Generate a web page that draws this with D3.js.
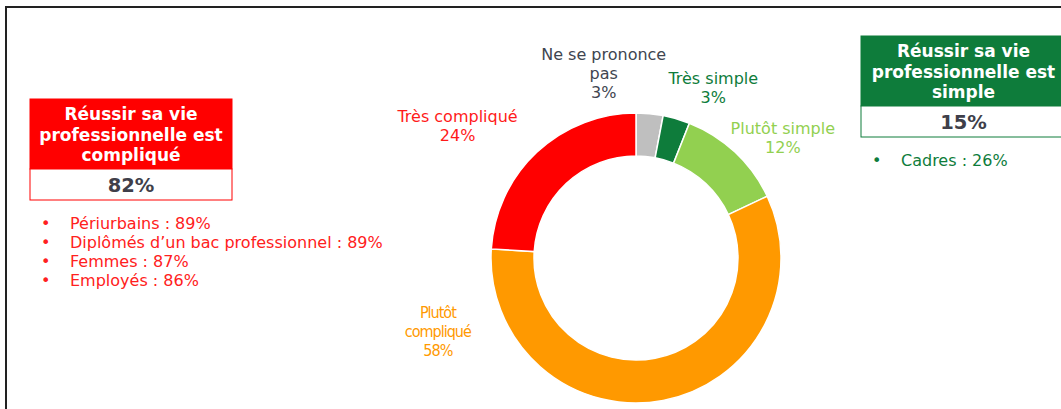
<!DOCTYPE html>
<html>
<head>
<meta charset="utf-8">
<script src="https://cdn.jsdelivr.net/npm/d3@7"></script>
<style>
  body { margin: 0; background: #fff; }
  svg { display: block; font-family: 'DejaVu Sans', Verdana, sans-serif; }
  .box-title { font-weight: bold; font-size: 17px; fill: #fff; }
  .box-value { font-weight: bold; font-size: 19.5px; fill: #3f3f4a; }
  .bullet { font-size: 16px; }
  .slice-label { font-size: 16px; }
  .narrow { font-family: 'DejaVu Sans Condensed', 'DejaVu Sans', sans-serif; font-stretch: condensed; letter-spacing: -1px; }
</style>
</head>
<body>
<svg id="chart"></svg>
<script>
// Donut data
const categories = ['Ne se prononce pas', 'Très simple', 'Plutôt simple', 'Plutôt compliqué', 'Très compliqué'];
const values = [3, 3, 12, 58, 24];
const sliceColors = ['#bfbfbf', '#0e7c3b', '#92d050', '#ff9900', '#ff0000'];
const labelColors = ['#404550', '#0e7c3b', '#92d050', '#ff9900', '#ff1a1a'];
const labelLines = [
  ['Ne se prononce', 'pas', '3%'],
  ['Très simple', '3%'],
  ['Plutôt simple', '12%'],
  ['Plutôt', 'compliqué', '58%'],
  ['Très compliqué', '24%'],
];

// Side boxes
const complicatedTitle = ['Réussir sa vie', 'professionnelle est', 'compliqué'];
const complicatedTotal = '82%';
const complicatedDetails = ['Périurbains : 89%', 'Diplômés d\u2019un bac professionnel : 89%', 'Femmes : 87%', 'Employés : 86%'];
const simpleTitle = ['Réussir sa vie', 'professionnelle est', 'simple'];
const simpleTotal = '15%';
const simpleDetails = ['Cadres : 26%'];

const width = 1061;
const height = 409;

const svg = d3.select('#chart').attr('width', width).attr('height', height);

// Frame (top and left edges only are visible)
svg.append('path')
  .attr('d', 'M6,409 V7 H1061')
  .attr('fill', 'none')
  .attr('stroke', '#222')
  .attr('stroke-width', 2);

// Donut
const cx = 636;
const cy = 258;
const pie = d3.pie().sort(null).value((d) => d.value);
const arc = d3.arc().innerRadius(102).outerRadius(145);
const slices = pie(categories.map((c, i) => ({ name: c, value: values[i], i: i })));

const donut = svg.append('g').attr('transform', 'translate(' + cx + ',' + cy + ')');

donut.selectAll('path')
  .data(slices)
  .join('path')
  .attr('d', arc)
  .attr('fill', (d) => sliceColors[d.data.i])
  .attr('stroke', '#fff')
  .attr('stroke-width', 1.5);

// Label placement: angle (deg, clockwise from top) and distance from centre
const labelPlacement = {
  'Ne se prononce pas': { angle: -9.9, radius: 188 },
  'Très simple': { angle: 24.4, radius: 187 },
  'Plutôt simple': { angle: 50.6, radius: 190 },
  'Plutôt compliqué': { angle: 249.9, radius: 211 },
  'Très compliqué': { angle: 306.5, radius: 222 },
};
const lineHeight = 19;

slices.forEach((d) => {
  const p = labelPlacement[d.data.name];
  const a = (p.angle * Math.PI) / 180;
  const x = p.radius * Math.sin(a);
  const y = -p.radius * Math.cos(a);
  const lines = labelLines[d.data.i];
  const top = y + 6 - ((lines.length - 1) * lineHeight) / 2;
  const t = donut.append('text')
    .attr('class', 'slice-label' + (d.data.name === 'Plutôt compliqué' ? ' narrow' : ''))
    .attr('text-anchor', 'middle')
    .attr('fill', labelColors[d.data.i]);
  lines.forEach((line, j) => {
    t.append('tspan').attr('x', x).attr('y', top + j * lineHeight).text(line);
  });
});

// Summary box with title, total and bullet list
function addSummary(opts) {
  const g = svg.append('g').attr('transform', 'translate(' + opts.x + ',' + opts.y + ')');
  g.append('rect')
    .attr('width', opts.w)
    .attr('height', 70)
    .attr('fill', opts.color)
    .attr('stroke', opts.color);
  g.append('rect')
    .attr('y', 70)
    .attr('width', opts.w)
    .attr('height', 31)
    .attr('fill', '#fff')
    .attr('stroke', opts.color);
  opts.title.forEach((line, i) => {
    g.append('text')
      .attr('class', 'box-title')
      .attr('x', opts.w / 2)
      .attr('y', 21 + i * 20.5)
      .attr('text-anchor', 'middle')
      .text(line);
  });
  g.append('text')
    .attr('class', 'box-value')
    .attr('x', opts.w / 2)
    .attr('y', 93)
    .attr('text-anchor', 'middle')
    .text(opts.total);
  opts.details.forEach((line, i) => {
    const yy = 130 + i * 19;
    g.append('text')
      .attr('class', 'bullet')
      .attr('x', opts.bulletX)
      .attr('y', yy)
      .attr('fill', opts.textColor)
      .text('\u2022');
    g.append('text')
      .attr('class', 'bullet')
      .attr('x', opts.bulletX + 29)
      .attr('y', yy)
      .attr('fill', opts.textColor)
      .text(line);
  });
}

addSummary({
  x: 30, y: 99, w: 202,
  color: '#ff0000', textColor: '#ff2020',
  title: complicatedTitle, total: complicatedTotal, details: complicatedDetails,
  bulletX: 11,
});

addSummary({
  x: 861, y: 36, w: 205,
  color: '#0e7c3b', textColor: '#0e7c3b',
  title: simpleTitle, total: simpleTotal, details: simpleDetails,
  bulletX: 11,
});
</script>
</body>
</html>
